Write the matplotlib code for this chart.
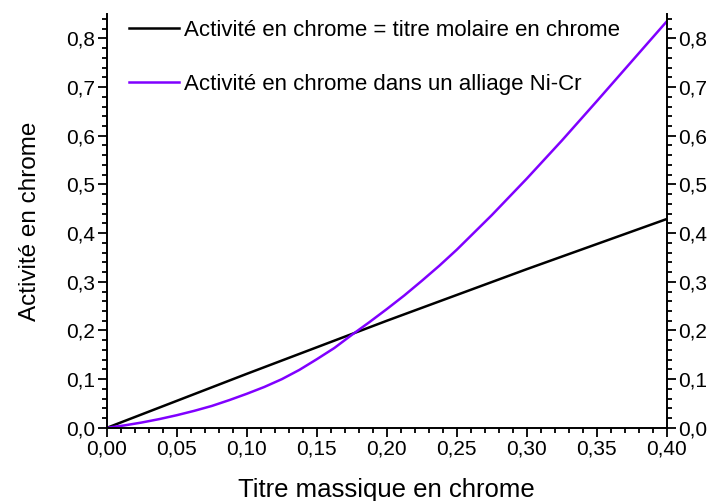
import matplotlib
matplotlib.use("Agg")
import matplotlib.pyplot as plt
from matplotlib.ticker import MultipleLocator, FuncFormatter

plt.rcParams["font.family"] = ["Liberation Sans", "DejaVu Sans"]

# titre massique en chrome -> activité
w_molaire = [0.0, 0.10, 0.20, 0.30, 0.40]
a_molaire = [0.0, 0.111, 0.220, 0.326, 0.429]

w_alliage = [0.0, 0.0125, 0.025, 0.0375, 0.05, 0.0625, 0.075, 0.0875, 0.10,
             0.1125, 0.125, 0.1375, 0.15, 0.1625, 0.175, 0.1875, 0.20,
             0.2125, 0.225, 0.2375, 0.25, 0.275, 0.30, 0.325, 0.35, 0.375, 0.40]
a_alliage = [0.0, 0.005, 0.011, 0.018, 0.026, 0.035, 0.045, 0.057, 0.070,
             0.084, 0.100, 0.119, 0.141, 0.164, 0.191, 0.217, 0.244,
             0.272, 0.302, 0.333, 0.366, 0.437, 0.512, 0.590, 0.671, 0.753, 0.835]

fig = plt.figure(figsize=(7.17, 5.01), dpi=100)
ax = fig.add_axes([0.149, 0.146, 0.781, 0.826])

ax.plot(w_molaire, a_molaire, color="black", lw=1.8,
        label="Activité en chrome = titre molaire en chrome")
ax.plot(w_alliage, a_alliage, color="#8000ff", lw=1.8,
        label="Activité en chrome dans un alliage Ni-Cr")

ax.set_xlim(0, 0.40)
ax.set_ylim(0, 0.85)

ax.spines["top"].set_visible(False)
for s in ("left", "right", "bottom"):
    ax.spines[s].set_linewidth(1.4)

ax.xaxis.set_major_locator(MultipleLocator(0.05))
ax.xaxis.set_minor_locator(MultipleLocator(0.01))
ax.yaxis.set_major_locator(MultipleLocator(0.1))
ax.yaxis.set_minor_locator(MultipleLocator(0.02))
ax.xaxis.set_major_formatter(FuncFormatter(lambda v, p: f"{v:.2f}".replace(".", ",")))
ax.yaxis.set_major_formatter(FuncFormatter(lambda v, p: f"{v:.1f}".replace(".", ",")))

ax.tick_params(which="both", direction="out", width=1.3, labelsize=15,
               left=True, right=True, bottom=True, top=False,
               labelleft=True, labelright=True, colors="black")
ax.tick_params(which="major", length=6.5, pad=2)
ax.tick_params(which="minor", length=3.5)

ax.set_xlabel("Titre massique en chrome", fontsize=18.5, labelpad=14)
ax.set_ylabel("Activité en chrome", fontsize=17.5, labelpad=18)

ax.legend(loc="upper left", bbox_to_anchor=(0.003, 1.035), frameon=False,
          fontsize=16, handlelength=2.25, handletextpad=0.25, labelspacing=1.5)

fig.savefig("out.png", dpi=100)
